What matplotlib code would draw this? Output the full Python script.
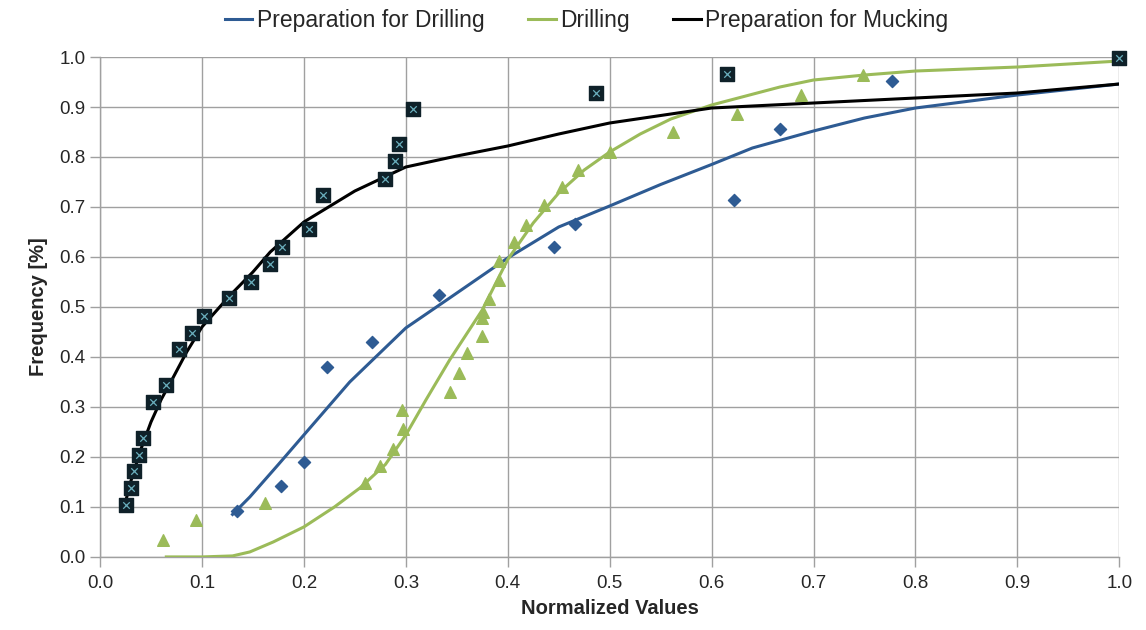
import matplotlib
matplotlib.use("Agg")
import matplotlib.pyplot as plt
from matplotlib.ticker import MultipleLocator, FormatStrFormatter

plt.rcParams['font.family'] = ['Liberation Sans', 'DejaVu Sans']

# observed points
drill_prep_x = [0.134, 0.178, 0.200, 0.2225, 0.267, 0.333, 0.445, 0.466, 0.622, 0.667, 0.777]
drill_prep_y = [0.092, 0.142, 0.190, 0.380, 0.430, 0.524, 0.620, 0.666, 0.714, 0.856, 0.953]

drill_x = [0.062, 0.094, 0.162, 0.260, 0.275, 0.287, 0.296, 0.297, 0.343, 0.352, 0.360,
           0.375, 0.375, 0.376, 0.382, 0.391, 0.391, 0.406, 0.418, 0.436, 0.453, 0.469,
           0.500, 0.562, 0.625, 0.688, 0.749]
drill_y = [0.034, 0.074, 0.108, 0.148, 0.182, 0.216, 0.294, 0.256, 0.330, 0.368, 0.408,
           0.442, 0.478, 0.490, 0.516, 0.554, 0.592, 0.630, 0.664, 0.704, 0.740, 0.774,
           0.810, 0.850, 0.886, 0.924, 0.964]

muck_prep_x = [0.0255, 0.030, 0.033, 0.038, 0.042, 0.052, 0.065, 0.077, 0.090, 0.102,
               0.127, 0.148, 0.167, 0.179, 0.205, 0.219, 0.280, 0.289, 0.293, 0.307,
               0.487, 0.615, 1.000]
muck_prep_y = [0.104, 0.138, 0.172, 0.204, 0.238, 0.310, 0.344, 0.416, 0.448, 0.482,
               0.518, 0.550, 0.586, 0.620, 0.656, 0.724, 0.756, 0.792, 0.826, 0.896,
               0.928, 0.966, 0.998]

# fitted curves
drill_prep_fx = [0.130, 0.147, 0.175, 0.200, 0.245, 0.300, 0.343, 0.400, 0.450, 0.500,
                 0.550, 0.600, 0.640, 0.700, 0.750, 0.800, 0.900, 1.000]
drill_prep_fy = [0.085, 0.120, 0.185, 0.244, 0.350, 0.458, 0.518, 0.598, 0.660, 0.702,
                 0.745, 0.785, 0.818, 0.852, 0.878, 0.898, 0.924, 0.946]

drill_fx = [0.065, 0.100, 0.130, 0.147, 0.170, 0.200, 0.230, 0.255, 0.280, 0.300, 0.320,
            0.343, 0.375, 0.400, 0.425, 0.450, 0.475, 0.500, 0.530, 0.560, 0.600, 0.667,
            0.700, 0.750, 0.800, 0.900, 1.000]
drill_fy = [0.000, 0.000, 0.002, 0.010, 0.030, 0.060, 0.100, 0.138, 0.185, 0.244, 0.315,
            0.394, 0.494, 0.595, 0.668, 0.728, 0.774, 0.810, 0.846, 0.876, 0.904, 0.940,
            0.954, 0.964, 0.972, 0.980, 0.992]

muck_prep_fx = [0.025, 0.030, 0.040, 0.050, 0.060, 0.072, 0.085, 0.100, 0.127, 0.150,
                0.167, 0.200, 0.250, 0.300, 0.350, 0.400, 0.450, 0.500, 0.600, 0.700,
                0.800, 0.900, 1.000]
muck_prep_fy = [0.110, 0.150, 0.215, 0.270, 0.315, 0.360, 0.410, 0.460, 0.522, 0.570,
                0.610, 0.670, 0.732, 0.780, 0.802, 0.822, 0.846, 0.868, 0.898, 0.908,
                0.918, 0.928, 0.946]

BLUE = '#2e5b93'
GREEN = '#9bbb59'
GRID = '#a0a0a0'
TEXT = '#262626'

fig = plt.figure(figsize=(11.46, 6.3), dpi=100)
ax = fig.add_axes([0.0873, 0.116, 0.8894, 0.7935])

ax.plot(drill_prep_fx, drill_prep_fy, color=BLUE, lw=2.2, label='Preparation for Drilling', zorder=3)
ax.plot(drill_fx, drill_fy, color=GREEN, lw=2.2, label='Drilling', zorder=3)
ax.plot(muck_prep_fx, muck_prep_fy, color='black', lw=2.2, label='Preparation for Mucking', zorder=3)

ax.scatter(drill_prep_x, drill_prep_y, marker='D', s=38, color=BLUE, zorder=4)
ax.scatter(drill_x, drill_y, marker='^', s=70, color=GREEN, zorder=4)
ax.scatter(muck_prep_x, muck_prep_y, marker='s', s=95, color='#0f2129', zorder=5, clip_on=False)
ax.scatter(muck_prep_x, muck_prep_y, marker='x', s=22, color='#6aaebd', lw=0.9, zorder=6, clip_on=False)

ax.set_xlim(0, 1)
ax.set_ylim(0, 1)
ax.xaxis.set_major_locator(MultipleLocator(0.1))
ax.yaxis.set_major_locator(MultipleLocator(0.1))
ax.xaxis.set_major_formatter(FormatStrFormatter('%.1f'))
ax.yaxis.set_major_formatter(FormatStrFormatter('%.1f'))
ax.grid(True, color=GRID, lw=1.0, zorder=0)
ax.set_axisbelow(True)
for side in ('top', 'right'):
    ax.spines[side].set_visible(False)
for side in ('left', 'bottom'):
    ax.spines[side].set_color(GRID)
    ax.spines[side].set_linewidth(1.0)
ax.tick_params(axis='both', colors=GRID, labelcolor=TEXT, labelsize=13.5, length=7, width=1.0)
ax.tick_params(axis='x', pad=6)
ax.set_xlabel('Normalized Values', fontsize=14.5, fontweight='bold', color=TEXT, labelpad=5)
ax.set_ylabel('Frequency [%]', fontsize=14.5, fontweight='bold', color=TEXT, labelpad=8)

fig.legend(loc='center', bbox_to_anchor=(0.512, 0.968), ncol=3, frameon=False,
           fontsize=16.5, handlelength=1.2, handletextpad=0.2, columnspacing=1.9,
           labelcolor=TEXT)

fig.savefig('out.png', dpi=100)
